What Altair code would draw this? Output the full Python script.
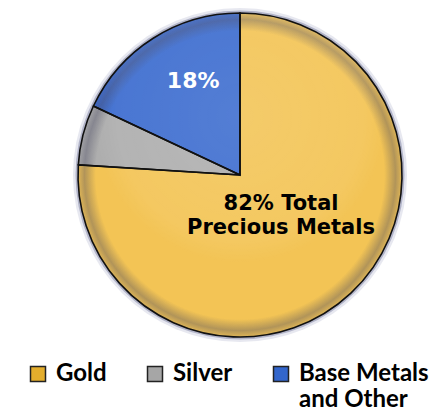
import math
import altair as alt
import pandas as pd

# ---- data ----
metals = ["Gold", "Silver", "Base Metals|and Other"]
shares = [76, 6, 18]
slice_labels = ["82% Total|Precious Metals", "", "18%"]

pie_colors = ["#F3C455", "#AEAEAE", "#3C6CCF"]
legend_colors = ["#E3AD2C", "#A6A6A6", "#3366CC"]

df = pd.DataFrame({"metal": metals, "legend_name": metals, "share": shares,
                   "label": slice_labels, "idx": list(range(len(metals)))})
one = alt.Data(values=[{"k": 1}])

R = 162
FULL = 2 * math.pi

theta = alt.Theta("share:Q", stack=True)
order = alt.Order("idx:Q")

# soft halo around the disc
halo_outer = alt.Chart(one).mark_arc(radius=R + 5, theta=0, theta2=FULL,
                                     fill="#9fa4c4", opacity=0.25)
halo_inner = alt.Chart(one).mark_arc(radius=R + 2.5, theta=0, theta2=FULL,
                                     fill="#70759a", opacity=0.45)

# slice fill (own scale, domain taken from the data so it is not merged
# with the legend's colour scale)
pie = alt.Chart(df).mark_arc(radius=R).encode(
    theta=theta,
    fill=alt.Fill("metal:N", scale=alt.Scale(range=pie_colors),
                  sort=metals, legend=None),
    order=order,
)

# darker rim inside the edge
rim = alt.Chart(one).mark_arc(
    radius=R, theta=0, theta2=FULL,
    fill={"gradient": "radial", "x1": 0.5, "y1": 0.5, "r1": 0,
          "x2": 0.5, "y2": 0.5, "r2": 0.5,
          "stops": [{"offset": 0, "color": "rgba(70,70,90,0)"},
                    {"offset": 0.89, "color": "rgba(70,70,90,0)"},
                    {"offset": 0.96, "color": "rgba(70,70,95,0.38)"},
                    {"offset": 0.995, "color": "rgba(70,70,95,0.15)"},
                    {"offset": 1, "color": "rgba(70,70,95,0.1)"}]},
)

# glossy highlight in upper part
gloss = alt.Chart(one).mark_arc(
    radius=R, theta=0, theta2=FULL,
    fill={"gradient": "radial", "x1": 0.5, "y1": 0.32, "r1": 0,
          "x2": 0.5, "y2": 0.32, "r2": 0.45,
          "stops": [{"offset": 0, "color": "rgba(255,255,255,0.12)"},
                    {"offset": 0.85, "color": "rgba(255,255,255,0.07)"},
                    {"offset": 1, "color": "rgba(255,255,255,0)"}]},
)

outline = alt.Chart(df).mark_arc(radius=R, fillOpacity=0, stroke="#111111",
                                 strokeWidth=1.6).encode(
    theta=theta, detail="metal:N", order=order)

# invisible layer that carries the legend
legend_layer = alt.Chart(df).mark_arc(radius=0).encode(
    theta=theta,
    color=alt.Color(
        "legend_name:N",
        scale=alt.Scale(domain=metals, range=legend_colors),
        legend=alt.Legend(
            title=None, orient="none", legendX=-49, legendY=352,
            direction="horizontal", columns=3, padding=0,
            symbolType="square", symbolSize=225,
            symbolStrokeColor="#222222", symbolStrokeWidth=1.5,
            symbolOpacity=1,
            labelFont="Lato", labelFontSize=24, labelFontWeight="bold",
            labelColor="black",
            labelExpr="split(indexof(datum.label, '|') < 0 ? datum.label + '|' : datum.label, '|')",
            labelBaseline="middle", labelOffset=6, columnPadding=36,
            labelLimit=300,
        ),
    ),
    order=order,
)

dark_text = alt.Chart(df).transform_calculate(
    t="datum.idx == 0 ? datum.label : ''"
).mark_text(radius=57, dx=2, dy=-13, font="DejaVu Sans", fontSize=21,
            fontWeight="bold", color="black", lineBreak="|", lineHeight=24,
            align="center", baseline="middle").encode(
    theta=theta, detail="metal:N", order=order, text="t:N")

white_text = alt.Chart(df).transform_calculate(
    t="datum.idx == 2 ? datum.label : ''"
).mark_text(radius=106, dx=10, dy=-5, font="DejaVu Sans", fontSize=22,
            fontWeight="bold", color="white", align="center",
            baseline="middle").encode(
    theta=theta, detail="metal:N", order=order, text="t:N")

chart = alt.layer(
    halo_outer, halo_inner, pie, rim, gloss, outline, legend_layer,
    dark_text, white_text,
).properties(
    width=330, height=330,
    padding={"left": 67, "top": 2, "right": 28, "bottom": 69},
    autosize=alt.AutoSizeParams(type="none"),
    background="white",
).configure_view(stroke=None).configure(
    style={"guide-label": {"lineHeight": 26}}
)

chart.save("out.html", embed_options={"renderer": "svg", "actions": False})
